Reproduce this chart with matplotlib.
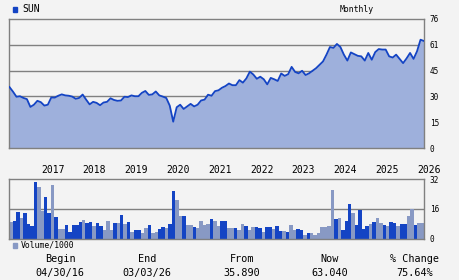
import matplotlib
matplotlib.use("Agg")
import matplotlib.pyplot as plt
import matplotlib.transforms as mtransforms
import numpy as np

# ---- data ----
price = [35.9, 33.2, 30.2, 30.5, 29.5, 28.8, 24.2, 25.5, 27.8, 27.0,
         25.0, 25.5, 29.8, 29.7, 30.8, 31.6, 31.0, 30.8, 30.3, 29.0,
         29.5, 31.5, 28.5, 25.7, 27.2, 26.6, 25.2, 26.8, 27.2, 29.3,
         28.3, 27.8, 28.0, 30.2, 30.0, 31.0, 30.5, 30.5, 32.5, 33.6,
         31.3, 31.6, 33.3, 31.0, 30.3, 29.5, 25.0, 15.5, 24.0, 25.5,
         23.0, 24.5, 26.0, 24.5, 25.5, 28.0, 28.5, 31.4, 30.8, 33.5,
         34.0, 35.5, 36.5, 38.0, 37.0, 37.0, 40.0, 38.5, 41.0, 45.0,
         43.3, 40.8, 42.0, 40.5, 37.5, 41.3, 40.5, 39.5, 43.9, 42.5,
         43.5, 47.8, 44.8, 44.0, 45.5, 43.0, 44.0, 45.5, 47.0, 49.0,
         51.0, 55.0, 59.5, 59.0, 61.3, 59.5, 55.0, 51.5, 56.3, 55.3,
         54.3, 54.0, 51.5, 56.0, 52.0, 56.5, 58.3, 58.0, 58.0, 54.0,
         53.3, 55.0, 52.5, 50.0, 52.8, 56.0, 52.5, 57.0, 63.8, 63.04]

volume = [9.2, 9.7, 14.4, 11.1, 13.8, 7.9, 6.8, 30.6, 27.9, 15.0,
          22.5, 13.8, 28.9, 11.6, 5.2, 5.2, 7.4, 3.5, 7.4, 7.4,
          9.0, 10.0, 8.6, 9.0, 6.8, 8.6, 6.8, 4.7, 9.6, 4.7,
          8.5, 8.5, 12.8, 7.9, 9.0, 3.6, 4.7, 4.7, 3.1, 5.8,
          7.4, 3.1, 3.6, 5.2, 6.3, 5.8, 7.9, 25.7, 20.9, 12.2,
          12.2, 7.4, 7.4, 6.3, 5.8, 9.5, 7.4, 7.9, 10.6, 9.5,
          6.8, 9.5, 9.5, 5.8, 5.8, 5.8, 4.7, 7.9, 6.8, 4.7,
          6.3, 6.3, 5.8, 3.6, 6.3, 6.3, 5.2, 6.8, 4.2, 4.2,
          3.6, 7.4, 4.7, 5.2, 4.7, 2.0, 3.1, 3.1, 2.0, 3.1,
          6.3, 6.3, 6.8, 26.2, 10.6, 11.1, 4.7, 9.5, 18.7, 13.8,
          7.4, 15.5, 5.2, 6.8, 7.9, 9.0, 11.1, 8.5, 7.4, 6.8,
          9.0, 8.5, 6.8, 7.9, 7.9, 12.2, 16.0, 7.4, 8.5, 8.5]

vol_dark = [0, 1, 1, 0, 1, 1, 1, 1, 0, 0,
            1, 1, 0, 1, 0, 0, 1, 1, 1, 1,
            1, 0, 1, 1, 0, 1, 1, 0, 0, 0,
            1, 0, 1, 0, 1, 0, 1, 1, 0, 0,
            1, 0, 0, 1, 1, 0, 1, 1, 0, 0,
            1, 0, 0, 1, 0, 0, 0, 0, 1, 0,
            0, 1, 1, 0, 0, 1, 0, 0, 1, 0,
            0, 1, 1, 0, 1, 1, 0, 1, 1, 0,
            1, 0, 0, 1, 1, 0, 1, 0, 0, 0,
            0, 0, 0, 0, 1, 0, 1, 1, 1, 0,
            1, 1, 1, 1, 0, 1, 0, 0, 1, 0,
            1, 1, 0, 1, 1, 0, 0, 1, 0, 0]

year_labels = ["2017", "2018", "2019", "2020", "2021", "2022", "2023", "2024", "2025", "2026"]
first_jan_index = 9
price_ticks = [0, 15.2, 30.4, 45.6, 60.8, 76]
price_tick_labels = ["0", "15", "30", "45", "61", "76"]
vol_ticks = [0, 16, 32]
vol_tick_labels = ["0", "16", "32"]

summary_heads = ["Begin", "End", "From", "Now", "% Change"]
summary_vals = ["04/30/16", "03/03/26", "35.890", "63.040", "75.64%"]
summary_x = [60, 147, 242, 330, 415]

# ---- style ----
BG = "#f3f3f3"
DARK = "#1444c4"
LIGHT = "#8899c4"
FILL = "#9eb0dc"
GRID = "#808080"
MONO = "DejaVu Sans Mono"

W, H = 460, 280
fig = plt.figure(figsize=(W / 100, H / 100), dpi=100, facecolor=BG)

def rect(l, t, r, b):
    return [l / W, 1 - b / H, (r - l) / W, (b - t) / H]

# price axes
ax = fig.add_axes(rect(9.5, 19, 424, 148))
ax.set_facecolor(BG)
n = len(price)
x = np.arange(n)
ax.set_xlim(0, n - 1)
ax.set_ylim(0, 76)
for yv in price_ticks[1:-1]:
    ax.axhline(yv, color=GRID, lw=1.0, zorder=1)
ax.fill_between(x, 0, price, color=FILL, lw=0, zorder=2)
ax.plot(x, price, color=DARK, lw=1.3, zorder=3)
for s in ax.spines.values():
    s.set_color(GRID)
    s.set_linewidth(1.0)
ax.tick_params(axis="both", length=0)
ax.set_xticks([])
ax.yaxis.tick_right()
ax.set_yticks(price_ticks)
ax.set_yticklabels(price_tick_labels, fontsize=5.6, family=MONO)
ax.tick_params(axis="y", pad=4)

# year labels
trans = mtransforms.blended_transform_factory(ax.transData, fig.transFigure)
for k, lab in enumerate(year_labels):
    xi = first_jan_index + 12 * k
    ax.text(xi, 1 - 170 / H, lab, transform=trans, ha="left", va="center",
            fontsize=7, family=MONO, clip_on=False)

# volume axes
av = fig.add_axes(rect(9.5, 179.3, 424, 238.7))
av.set_facecolor(BG)
av.set_xlim(-0.5, n - 0.5)
av.set_ylim(0, 32)
av.axhline(16, color=GRID, lw=1.0, zorder=1)
colors = [DARK if d else LIGHT for d in vol_dark]
av.bar(np.arange(n), volume, width=1.0, color=colors, lw=0, zorder=2)
for s in av.spines.values():
    s.set_color(GRID)
    s.set_linewidth(1.0)
av.tick_params(axis="both", length=0)
av.set_xticks([])
av.yaxis.tick_right()
av.set_yticks(vol_ticks)
av.set_yticklabels(vol_tick_labels, fontsize=5.6, family=MONO)
av.tick_params(axis="y", pad=4)

# legends / titles
fig.patches.append(plt.Rectangle((12.7 / W, 1 - 11.5 / H), 4.6 / W, 4.6 / H,
                                 transform=fig.transFigure, color=DARK))
fig.text(22.5 / W, 1 - 9 / H, "SUN", fontsize=7, family=MONO, va="center", ha="left")
fig.text(357 / W, 1 - 9 / H, "Monthly", fontsize=5.9, family=MONO, va="center", ha="center")
fig.patches.append(plt.Rectangle((12.7 / W, 1 - 248 / H), 4.6 / W, 4.6 / H,
                                 transform=fig.transFigure, color=LIGHT))
fig.text(20.7 / W, 1 - 245.5 / H, "Volume/1000", fontsize=5.9, family=MONO, va="center", ha="left")

for hx, hd, vl in zip(summary_x, summary_heads, summary_vals):
    fig.text(hx / W, 1 - 259 / H, hd, fontsize=7.3, family=MONO, va="center", ha="center")
    fig.text(hx / W, 1 - 273 / H, vl, fontsize=7.3, family=MONO, va="center", ha="center")

fig.savefig("out.png", dpi=100, facecolor=BG)
